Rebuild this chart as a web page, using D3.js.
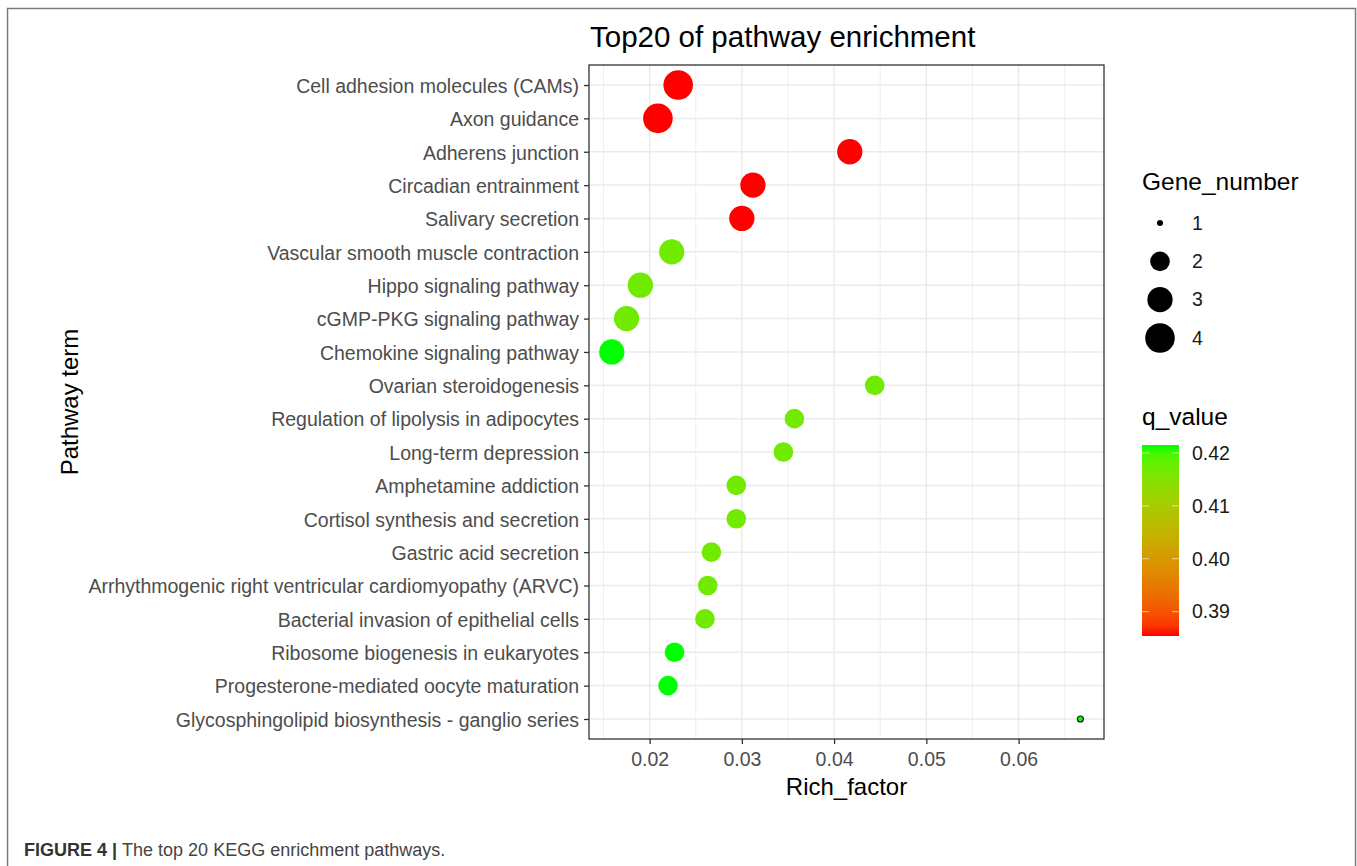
<!DOCTYPE html>
<html>
<head>
<meta charset="utf-8">
<script src="https://cdn.jsdelivr.net/npm/d3@7"></script>
<style>
  body { margin: 0; background: #fff; }
  svg { display: block; font-family: "Liberation Sans", Arial, sans-serif; }
</style>
</head>
<body>
<svg width="1357" height="866"></svg>
<script>
// pathway terms, top to bottom
var pathways = [
  "Cell adhesion molecules (CAMs)",
  "Axon guidance",
  "Adherens junction",
  "Circadian entrainment",
  "Salivary secretion",
  "Vascular smooth muscle contraction",
  "Hippo signaling pathway",
  "cGMP-PKG signaling pathway",
  "Chemokine signaling pathway",
  "Ovarian steroidogenesis",
  "Regulation of lipolysis in adipocytes",
  "Long-term depression",
  "Amphetamine addiction",
  "Cortisol synthesis and secretion",
  "Gastric acid secretion",
  "Arrhythmogenic right ventricular cardiomyopathy (ARVC)",
  "Bacterial invasion of epithelial cells",
  "Ribosome biogenesis in eukaryotes",
  "Progesterone-mediated oocyte maturation",
  "Glycosphingolipid biosynthesis - ganglio series"
];
var richFactor = [0.0231, 0.0209, 0.0417, 0.0312, 0.0300, 0.0224, 0.0190, 0.0175, 0.0159,
  0.0444, 0.0357, 0.0345, 0.0294, 0.0294, 0.0267, 0.0263, 0.0260, 0.0227, 0.0220, 0.0667];
var geneNumber = [4, 4, 3, 3, 3, 3, 3, 3, 3, 2, 2, 2, 2, 2, 2, 2, 2, 2, 2, 1];
var qValue = [0.3854, 0.3854, 0.3854, 0.3854, 0.3854, 0.417, 0.417, 0.417, 0.4215,
  0.417, 0.417, 0.417, 0.417, 0.417, 0.417, 0.417, 0.417, 0.4215, 0.4215, 0.4215];

var xTicks = [0.02, 0.03, 0.04, 0.05, 0.06];
var xMinor = [0.015, 0.025, 0.035, 0.045, 0.055, 0.065];
var sizeBreaks = [1, 2, 3, 4];
var qBreaks = [0.39, 0.40, 0.41, 0.42];
var qDomain = [0.3854, 0.4215];

var svg = d3.select("svg");

// panel box
var pLeft = 589, pRight = 1104, pTop = 65, pBottom = 739;

var x = d3.scaleLinear().domain([0.01343, 0.06926]).range([pLeft, pRight]);
var y = d3.scalePoint().domain(pathways).range([pTop, pBottom]).padding(0.6);
var r = d3.scaleSqrt().domain([0, 3]).range([3, 14.8]); // applied to gene number - 1
var color = d3.scaleLinear().domain(qDomain).range(["#ff0000", "#00ff00"]).interpolate(d3.interpolateLab);

// outer figure frame
svg.append("rect").attr("x", 7.5).attr("y", 8.5).attr("width", 1348).attr("height", 880)
  .attr("fill", "none").attr("stroke", "#7a7a7a").attr("stroke-width", 1.5);

// grid
var grid = svg.append("g");
grid.selectAll(".minor").data(xMinor).enter().append("line")
  .attr("x1", d => x(d)).attr("x2", d => x(d)).attr("y1", pTop).attr("y2", pBottom)
  .attr("stroke", "#ebebeb").attr("stroke-width", 0.8);
grid.selectAll(".majx").data(xTicks).enter().append("line")
  .attr("x1", d => x(d)).attr("x2", d => x(d)).attr("y1", pTop).attr("y2", pBottom)
  .attr("stroke", "#ebebeb").attr("stroke-width", 1.5);
grid.selectAll(".majy").data(pathways).enter().append("line")
  .attr("x1", pLeft).attr("x2", pRight).attr("y1", d => y(d)).attr("y2", d => y(d))
  .attr("stroke", "#ebebeb").attr("stroke-width", 1.5);

// points
svg.append("g").selectAll("circle").data(pathways).enter().append("circle")
  .attr("cx", (d, i) => x(richFactor[i]))
  .attr("cy", d => y(d))
  .attr("r", (d, i) => r(geneNumber[i] - 1))
  .attr("fill", (d, i) => color(qValue[i]))
  .attr("stroke", (d, i) => geneNumber[i] == 1 ? "#1a1a1a" : "none")
  .attr("stroke-width", 1.2);

// panel border
svg.append("rect").attr("x", pLeft).attr("y", pTop).attr("width", pRight - pLeft).attr("height", pBottom - pTop)
  .attr("fill", "none").attr("stroke", "#333").attr("stroke-width", 1.3);

// axes
var xAxis = svg.append("g").attr("transform", "translate(0," + pBottom + ")")
  .call(d3.axisBottom(x).tickValues(xTicks).tickSize(5).tickPadding(8).tickFormat(d3.format(".2f")));
var yAxis = svg.append("g").attr("transform", "translate(" + pLeft + ",1)")
  .call(d3.axisLeft(y).tickSize(5).tickPadding(5));
yAxis.selectAll(".tick line").attr("y1", -1).attr("y2", -1);
[xAxis, yAxis].forEach(function (a) {
  a.select(".domain").remove();
  a.selectAll(".tick line").attr("stroke", "#333").attr("stroke-width", 1.3);
  a.selectAll(".tick text").attr("fill", "#4d4d4d").style("font-size", "19.5px")
    .style("font-family", "'Liberation Sans', Arial, sans-serif");
});

// title and axis titles
svg.append("text").attr("x", 590).attr("y", 47).text("Top20 of pathway enrichment")
  .style("font-size", "29.5px").attr("fill", "#000");
svg.append("text").attr("x", (pLeft + pRight) / 2).attr("y", 795).attr("text-anchor", "middle")
  .text("Rich_factor").style("font-size", "24px").attr("fill", "#000");
svg.append("text").attr("transform", "translate(78," + (pTop + pBottom) / 2 + ") rotate(-90)")
  .attr("text-anchor", "middle").text("Pathway term").style("font-size", "24px").attr("fill", "#000");

// size legend
var lg = svg.append("g");
lg.append("text").attr("x", 1142).attr("y", 190).text("Gene_number").style("font-size", "24.5px");
var sizeY = d3.scalePoint().domain(sizeBreaks).range([223, 338]);
lg.selectAll(".key").data(sizeBreaks).enter().append("circle")
  .attr("cx", 1160).attr("cy", d => sizeY(d)).attr("r", d => r(d - 1)).attr("fill", "#000");
lg.selectAll(".lab").data(sizeBreaks).enter().append("text")
  .attr("x", 1192).attr("y", d => sizeY(d)).attr("dy", "0.35em").text(d => d)
  .style("font-size", "19.5px").attr("fill", "#1a1a1a");

// colour bar
var barTop = 445, barBottom = 636, barX = 1142, barW = 37;
var qy = d3.scaleLinear().domain(qDomain).range([barBottom, barTop]);
var grad = svg.append("defs").append("linearGradient").attr("id", "qgrad")
  .attr("x1", 0).attr("y1", 1).attr("x2", 0).attr("y2", 0);
grad.selectAll("stop").data(d3.range(0, 1.0001, 0.05)).enter().append("stop")
  .attr("offset", d => d).attr("stop-color", d => color(qDomain[0] + d * (qDomain[1] - qDomain[0])));
lg.append("text").attr("x", 1142).attr("y", 425).text("q_value").style("font-size", "24.5px");
lg.append("rect").attr("x", barX).attr("y", barTop).attr("width", barW).attr("height", barBottom - barTop)
  .attr("fill", "url(#qgrad)");
qBreaks.forEach(function (q) {
  lg.append("line").attr("x1", barX).attr("x2", barX + 7).attr("y1", qy(q)).attr("y2", qy(q))
    .attr("stroke", "#fff").attr("stroke-opacity", 0.6);
  lg.append("line").attr("x1", barX + barW - 7).attr("x2", barX + barW).attr("y1", qy(q)).attr("y2", qy(q))
    .attr("stroke", "#fff").attr("stroke-opacity", 0.6);
});
lg.selectAll(".qlab").data(qBreaks).enter().append("text")
  .attr("x", 1192).attr("y", d => qy(d)).attr("dy", "0.35em").text(d3.format(".2f"))
  .style("font-size", "19.5px").attr("fill", "#1a1a1a");

// caption
var cap = svg.append("text").attr("x", 24).attr("y", 856).style("font-size", "18px");
cap.append("tspan").text("FIGURE 4 | ").attr("font-weight", "bold").attr("fill", "#333");
cap.append("tspan").text("The top 20 KEGG enrichment pathways.").attr("fill", "#444");
</script>
</body>
</html>
